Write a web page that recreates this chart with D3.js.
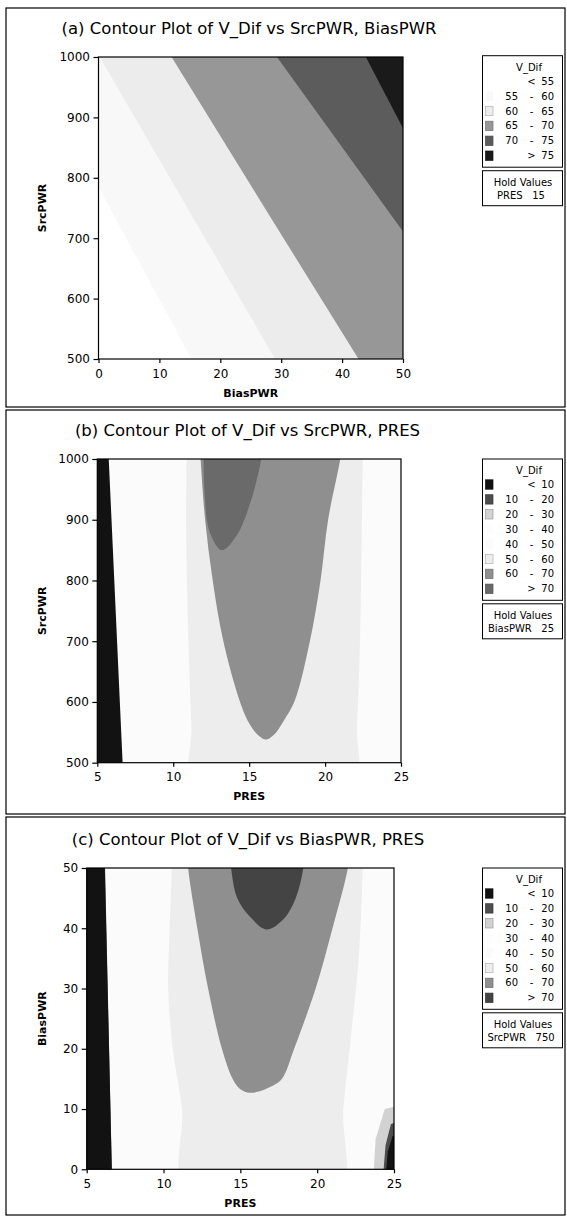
<!DOCTYPE html>
<meta charset="utf-8">
<head>
    <script src="https://cdn.jsdelivr.net/npm/d3@7"></script>
    <style>
        body { margin: 0; background: #fff; }
        svg text { font-family: "DejaVu Sans", Verdana, sans-serif; fill: #000; }
    </style>
</head>
<body>
<script>
    // ---- data ----
    // (a) V_Dif vs SrcPWR, BiasPWR  (x = BiasPWR, y = SrcPWR)
    var breaksA = [55, 60, 65, 70, 75];
    var fillsA = ["#ffffff", "#f8f8f8", "#ececec", "#979797", "#5c5c5c", "#1a1a1a"];
    var holdA = ["PRES", 15];
    var ticksXA = [0, 10, 20, 30, 40, 50];
    var ticksYA = [500, 600, 700, 800, 900, 1000];
    // [band index, smooth?, boundary polygon]
    var regionsA = [
        [1, 0, [[-11.6, 1000], [15.3, 500], [50, 500], [50, 1000]]],
        [2, 0, [[0.2, 1000], [29, 500], [50, 500], [50, 1000]]],
        [3, 0, [[12, 1000], [27.3, 750], [42.7, 500], [50, 500], [50, 1000]]],
        [4, 0, [[29.3, 1000], [50, 711], [50, 1000]]],
        [5, 0, [[43.9, 1000], [50, 882], [50, 1000]]]
    ];

    // (b) V_Dif vs SrcPWR, PRES  (x = PRES, y = SrcPWR)
    var breaksB = [10, 20, 30, 40, 50, 60, 70];
    var fillsB = ["#121212", "#4d4d4d", "#d2d2d2", "#fdfdfd", "#fbfbfb", "#ededed", "#8f8f8f", "#6a6a6a"];
    var holdB = ["BiasPWR", 25];
    var ticksXB = [5, 10, 15, 20, 25];
    var ticksYB = [500, 600, 700, 800, 900, 1000];
    var regionsB = [
        [5, 1, [[10.9, 1040], [10.85, 900], [10.9, 800], [11.0, 700], [11.2, 560], [11.4, 460],
                [21.8, 460], [22.1, 560], [22.3, 700], [22.4, 850], [22.5, 1040]]],
        [6, 1, [[11.7, 1040], [11.8, 1000], [12.1, 900], [12.6, 800], [13.3, 700], [14.4, 600],
                [15.0, 565], [15.6, 545], [16.1, 538], [16.6, 545], [17.3, 570], [18.0, 602],
                [19.0, 700], [19.7, 800], [20.2, 900], [21.0, 1000], [21.2, 1040]]],
        [7, 1, [[12.0, 1040], [12.05, 950], [12.4, 880], [13.2, 850], [14.2, 875], [15.1, 930],
                [15.8, 1000], [16.0, 1040]]],
        [0, 0, [[4, 1040], [5.68, 1040], [6.74, 460], [4, 460]]]
    ];

    // (c) V_Dif vs BiasPWR, PRES  (x = PRES, y = BiasPWR)
    var breaksC = [10, 20, 30, 40, 50, 60, 70];
    var fillsC = ["#121212", "#4d4d4d", "#d2d2d2", "#fdfdfd", "#fbfbfb", "#ededed", "#8f8f8f", "#444444"];
    var holdC = ["SrcPWR", 750];
    var ticksXC = [5, 10, 15, 20, 25];
    var ticksYC = [0, 10, 20, 30, 40, 50];
    var regionsC = [
        [5, 1, [[10.6, 54], [10.4, 40], [10.3, 30], [10.6, 20], [11.2, 10], [11.5, -4],
                [21.4, -4], [21.7, 10], [22.2, 22], [22.7, 35], [22.9, 45], [23.0, 54]]],
        [6, 1, [[11.5, 54], [11.6, 50], [12.2, 40], [12.9, 30], [13.8, 20], [14.5, 15],
                [15.0, 13.3], [15.6, 12.7], [16.2, 12.9], [16.9, 13.6], [17.7, 15], [18.5, 20],
                [19.9, 30], [21.0, 40], [22.0, 50], [22.2, 54]]],
        [7, 1, [[14.3, 54], [14.4, 50], [14.8, 45], [15.6, 42], [16.7, 39.8], [17.8, 41.5],
                [18.6, 45], [19.1, 50], [19.2, 54]]],
        [2, 0, [[23.6, -4], [23.8, 5], [24.4, 10], [26, 11], [26, -4]]],
        [1, 0, [[24.2, -4], [24.45, 4], [24.8, 7.5], [26, 8.5], [26, -4]]],
        [0, 0, [[24.35, -4], [24.6, 3], [24.9, 5.5], [26, 6.5], [26, -4]]],
        [1, 0, [[4, 54], [6.16, 54], [6.67, -4], [4, -4]]],
        [0, 0, [[4, 46], [5.5, 54], [6.14, 54], [6.67, -4], [4, -4]]]
    ];

    // ---- layout ----
    var width = 567, height = 1216;
    var frameLeft = 6, frameRight = 565;

    var panels = [
        {id: "a", top: 8, bottom: 407, plot: [98.5, 57, 403, 359], titleX: 249, titleY: 33.5,
         title: "(a) Contour Plot of V_Dif vs SrcPWR, BiasPWR", xLabel: "BiasPWR", yLabel: "SrcPWR",
         xDomain: [0, 50], yDomain: [500, 1000], xTicks: ticksXA, yTicks: ticksYA,
         breaks: breaksA, fills: fillsA, base: 0, regions: regionsA, hold: holdA, legendTop: 55.7},
        {id: "b", top: 410, bottom: 814, plot: [97.3, 459, 401, 762.7], titleX: 247.5, titleY: 436,
         title: "(b) Contour Plot of V_Dif vs SrcPWR, PRES", xLabel: "PRES", yLabel: "SrcPWR",
         xDomain: [5, 25], yDomain: [500, 1000], xTicks: ticksXB, yTicks: ticksYB,
         breaks: breaksB, fills: fillsB, base: 4, regions: regionsB, hold: holdB, legendTop: 459},
        {id: "c", top: 817, bottom: 1215, plot: [86.7, 868, 394, 1169.3], titleX: 248, titleY: 845,
         title: "(c) Contour Plot of V_Dif vs BiasPWR, PRES", xLabel: "PRES", yLabel: "BiasPWR",
         xDomain: [5, 25], yDomain: [0, 50], xTicks: ticksXC, yTicks: ticksYC,
         breaks: breaksC, fills: fillsC, base: 4, regions: regionsC, hold: holdC, legendTop: 868}
    ];

    var svg = d3.select("body").append("svg")
        .attr("width", width)
        .attr("height", height);

    panels.forEach(drawPanel);

    function drawPanel(p) {
        var g = svg.append("g").attr("id", "panel-" + p.id);
        var x0 = p.plot[0], y0 = p.plot[1], x1 = p.plot[2], y1 = p.plot[3];

        // outer frame
        g.append("rect")
            .attr("x", frameLeft).attr("y", p.top)
            .attr("width", frameRight - frameLeft).attr("height", p.bottom - p.top)
            .attr("fill", "none").attr("stroke", "#000").attr("stroke-width", 1.2);

        var x = d3.scaleLinear().domain(p.xDomain).range([x0, x1]);
        var y = d3.scaleLinear().domain(p.yDomain).range([y1, y0]);

        g.append("clipPath").attr("id", "clip-" + p.id)
            .append("rect")
            .attr("x", x0).attr("y", y0)
            .attr("width", x1 - x0).attr("height", y1 - y0);

        var area = g.append("g").attr("clip-path", "url(#clip-" + p.id + ")");

        area.append("rect")
            .attr("x", x(p.xDomain[0])).attr("y", y(p.yDomain[1]))
            .attr("width", x(p.xDomain[1]) - x(p.xDomain[0]))
            .attr("height", y(p.yDomain[0]) - y(p.yDomain[1]))
            .attr("fill", p.fills[p.base]);

        var straight = d3.line().x(function(d) { return x(d[0]); }).y(function(d) { return y(d[1]); });
        var smooth = d3.line().x(function(d) { return x(d[0]); }).y(function(d) { return y(d[1]); })
            .curve(d3.curveCatmullRom.alpha(0.5));

        area.selectAll("path.band")
            .data(p.regions)
            .join("path")
            .attr("class", "band")
            .attr("d", function(r) { return (r[1] ? smooth : straight)(r[2]) + "Z"; })
            .attr("fill", function(r) { return p.fills[r[0]]; });

        // plot frame
        g.append("rect")
            .attr("x", x0).attr("y", y0)
            .attr("width", x1 - x0).attr("height", y1 - y0)
            .attr("fill", "none").attr("stroke", "#000").attr("stroke-width", 1.2);

        // axes
        var xAxis = d3.axisBottom(x).tickValues(p.xTicks).tickSize(4).tickPadding(6).tickFormat(d3.format("d"));
        var yAxis = d3.axisLeft(y).tickValues(p.yTicks).tickSize(5).tickPadding(3.5).tickFormat(d3.format("d"));

        var gx = g.append("g").attr("transform", "translate(0," + y1 + ")").call(xAxis);
        var gy = g.append("g").attr("transform", "translate(" + x0 + ",0)").call(yAxis);
        [gx, gy].forEach(function(a) {
            a.select(".domain").remove();
            a.attr("font-family", null).attr("font-size", null);
            a.selectAll("line").attr("stroke", "#000").attr("stroke-width", 1.2);
            a.selectAll("text").style("font-size", "12px");
        });

        // titles
        g.append("text")
            .attr("x", p.titleX).attr("y", p.titleY)
            .attr("text-anchor", "middle")
            .style("font-size", "16.5px")
            .text(p.title);

        g.append("text")
            .attr("x", (x0 + x1) / 2).attr("y", y1 + 37.5)
            .attr("text-anchor", "middle")
            .style("font-size", "11px").style("font-weight", "bold")
            .text(p.xLabel);

        g.append("text")
            .attr("transform", "translate(" + 46 + "," + (y0 + y1) / 2 + ") rotate(-90)")
            .attr("text-anchor", "middle")
            .style("font-size", "11px").style("font-weight", "bold")
            .text(p.yLabel);

        drawLegend(g, p);
    }

    function drawLegend(g, p) {
        var lx = 482.5, lw = 80, rowH = 14.9;
        var n = p.breaks.length + 1;
        var lh = 25.5 + (n - 1) * rowH + 11.5;
        var top = p.legendTop;

        g.append("rect")
            .attr("x", lx).attr("y", top).attr("width", lw).attr("height", lh)
            .attr("fill", "#fff").attr("stroke", "#000").attr("stroke-width", 1);

        g.append("text")
            .attr("x", 529).attr("y", top + 11.5).attr("dy", "0.35em")
            .attr("text-anchor", "middle")
            .style("font-size", "10px")
            .text("V_Dif");

        var rows = d3.range(n).map(function(i) {
            if (i === 0) return {fill: p.fills[0], lo: null, sym: "<", hi: p.breaks[0]};
            if (i === n - 1) return {fill: p.fills[i], lo: null, sym: ">", hi: p.breaks[n - 2]};
            return {fill: p.fills[i], lo: p.breaks[i - 1], sym: "-", hi: p.breaks[i]};
        });

        var row = g.selectAll("g.lrow")
            .data(rows)
            .join("g")
            .attr("class", "lrow")
            .attr("transform", function(d, i) { return "translate(0," + (top + 25.5 + i * rowH) + ")"; });

        row.append("rect")
            .attr("x", 485.5).attr("y", -4.7).attr("width", 7.5).attr("height", 9.4)
            .attr("fill", function(d) { return d.fill; })
            .attr("stroke", function(d) { return d3.hsl(d.fill).l > 0.96 ? "none" : d3.color(d.fill).darker(0.8); })
            .attr("stroke-width", 0.7);

        row.append("text")
            .attr("x", 518).attr("dy", "0.35em").attr("text-anchor", "end")
            .style("font-size", "10px")
            .text(function(d) { return d.lo === null ? "" : d.lo; });

        row.append("text")
            .attr("x", 531.5).attr("dy", "0.35em").attr("text-anchor", "middle")
            .style("font-size", "10px")
            .text(function(d) { return d.sym; });

        row.append("text")
            .attr("x", 554).attr("dy", "0.35em").attr("text-anchor", "end")
            .style("font-size", "10px")
            .text(function(d) { return d.hi; });

        // hold values box
        var ht = top + lh + 3.5;
        g.append("rect")
            .attr("x", lx).attr("y", ht).attr("width", lw).attr("height", 35)
            .attr("fill", "#fff").attr("stroke", "#000").attr("stroke-width", 1);
        g.append("text")
            .attr("x", 523).attr("y", ht + 12).attr("dy", "0.35em").attr("text-anchor", "middle")
            .style("font-size", "10px")
            .text("Hold Values");
        g.append("text")
            .attr("x", 521).attr("y", ht + 25).attr("dy", "0.35em").attr("text-anchor", "middle")
            .style("font-size", "10px").style("white-space", "pre")
            .text(p.hold[0] + "   " + p.hold[1]);
    }
</script>
</body>
